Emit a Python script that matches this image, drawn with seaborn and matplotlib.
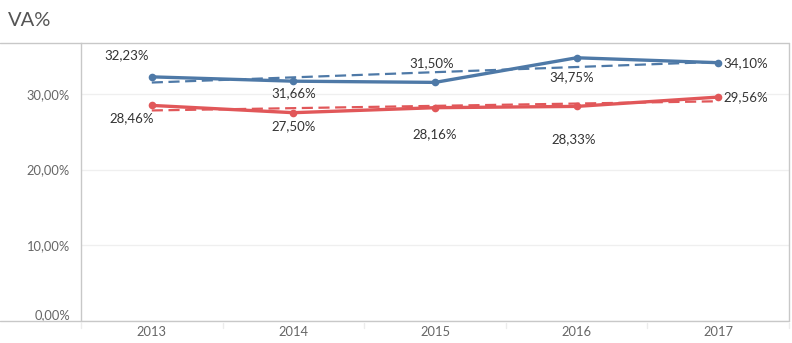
import matplotlib
matplotlib.use("Agg")
import matplotlib.pyplot as plt
import seaborn as sns
import pandas as pd
from matplotlib.lines import Line2D
from matplotlib.ticker import FuncFormatter

years = [2013, 2014, 2015, 2016, 2017]
blue_vals = [32.23, 31.66, 31.50, 34.75, 34.10]
red_vals = [28.46, 27.50, 28.16, 28.33, 29.56]
y_ticks = [0, 10, 20, 30]
title = "VA%"

BLUE = "#4e79a7"
RED = "#e15759"

# label offsets in pixels (dx, dy) and alignment
blue_off = [(-25, 22, "center"), (0, -12, "center"), (-3, 19, "center"), (-5, -19, "center"), (5, 0, "left")]
red_off = [(-20, -13, "center"), (0, -13, "center"), (0, -26, "center"), (-3, -33, "center"), (5, 0, "left")]

df = pd.DataFrame({
    "year": years * 2,
    "value": blue_vals + red_vals,
    "series": ["A"] * len(years) + ["B"] * len(years),
})

sns.set_theme(style="white")
plt.rcParams["font.family"] = ["Lato", "DejaVu Sans"]

fig = plt.figure(figsize=(7.92, 3.43), dpi=100)
W, H = 792, 343
ax = fig.add_axes([81 / W, (H - 321) / H, (789 - 81) / W, (321 - 43) / H])

for vals, col in [(blue_vals, BLUE), (red_vals, RED)]:
    sub = pd.DataFrame({"year": years, "value": vals})
    sns.regplot(data=sub, x="year", y="value", ax=ax, scatter=False, ci=None,
                line_kws=dict(color=col, lw=1.6, ls=(0, (5, 2.5))))

sns.lineplot(data=df, x="year", y="value", hue="series", palette=[BLUE, RED],
             marker="o", markersize=5.5, markeredgewidth=0, lw=2.4, ax=ax, legend=False)

ax.set_xlim(2012.5, 2017.5)
ax.set_ylim(0, 36.7)
ax.set_yticks(y_ticks)
ax.yaxis.set_major_formatter(FuncFormatter(lambda v, p: f"{v:.2f}".replace(".", ",") + "%"))
ax.set_xticks(years)
ax.set_xticklabels([str(y) for y in years])
ax.set_xlabel("")
ax.set_ylabel("")
ax.grid(axis="y", color="#efefef", lw=0.9)
ax.set_axisbelow(True)
for s in ["top", "right", "bottom"]:
    ax.spines[s].set_visible(False)
ax.spines["left"].set_color("#c8c8c8")
ax.spines["left"].set_linewidth(1)
ax.tick_params(axis="both", length=0, labelsize=9.3, labelcolor="#666666")
ax.tick_params(axis="y", pad=8)
ax.tick_params(axis="x", pad=3.5)
fig.canvas.draw()
ax.get_yticklabels()[0].set_va("bottom")

# annotations
for vals, offs in [(blue_vals, blue_off), (red_vals, red_off)]:
    for x, v, (dx, dy, ha) in zip(years, vals, offs):
        ax.annotate(f"{v:.2f}".replace(".", ",") + "%", (x, v), xytext=(dx, dy),
                    textcoords="offset pixels", ha=ha, va="center", fontsize=9.5, color="#333333")

# frame lines across the figure
fig.add_artist(Line2D([0, 789 / W], [(H - 43) / H] * 2, color="#c8c8c8", lw=1, transform=fig.transFigure))
fig.add_artist(Line2D([0, 789 / W], [(H - 321) / H] * 2, color="#c8c8c8", lw=1, transform=fig.transFigure))
fig.add_artist(Line2D([789 / W] * 2, [(H - 321) / H, (H - 43) / H], color="#c8c8c8", lw=1, transform=fig.transFigure))
# category band ticks below the axis
for xb in [2012.5, 2013.5, 2014.5, 2015.5, 2016.5, 2017.5]:
    xf = (81 + (xb - 2012.5) * (789 - 81) / 5) / W
    fig.add_artist(Line2D([xf, xf], [(H - 323) / H, (H - 328) / H], color="#ececec", lw=1, transform=fig.transFigure))

fig.text(8 / W, 1 - 20 / H, title, fontsize=14.5, color="#555555", va="center", ha="left")

fig.savefig("out.png", dpi=100)
